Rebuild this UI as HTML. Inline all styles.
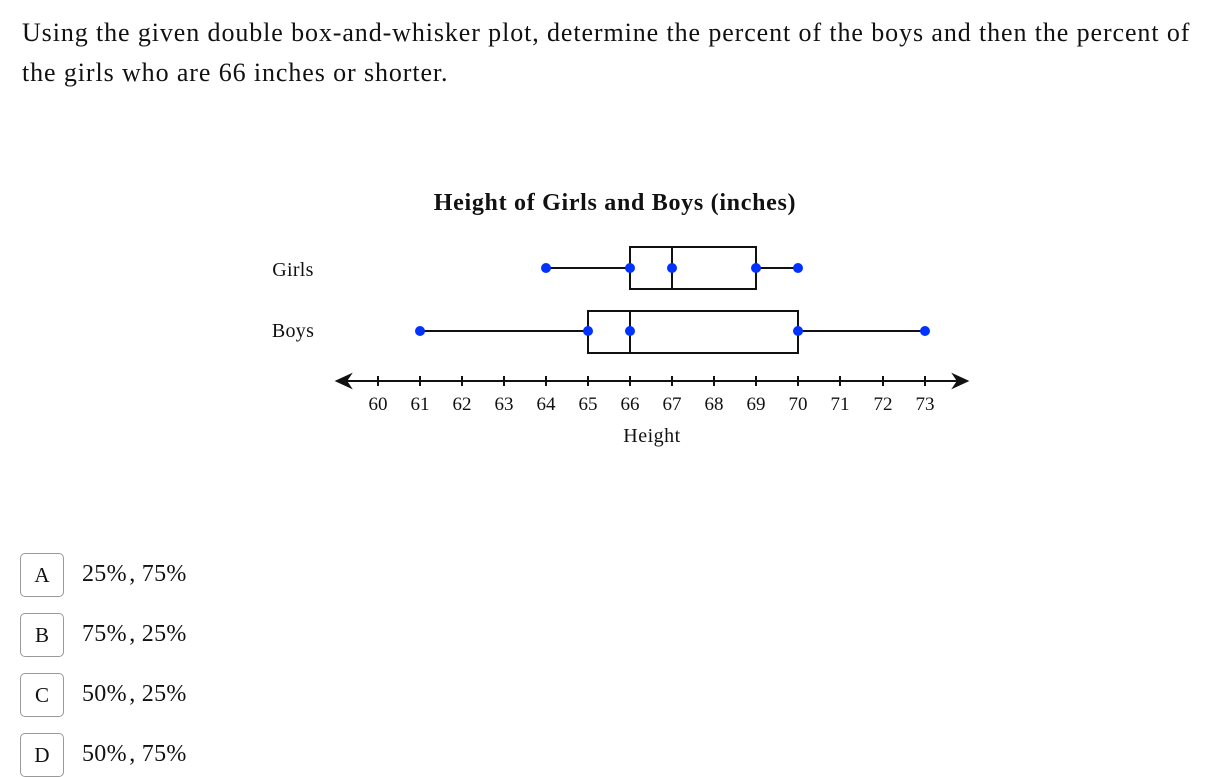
<!DOCTYPE html>
<html><head><style>
body{margin:0;width:1232px;height:777px;background:#fff;font-family:"Liberation Serif",serif;color:#111;position:relative;overflow:hidden}
.q{position:absolute;left:22px;top:13px;width:1182px;font-size:26px;letter-spacing:0.9px;line-height:40px}
.opt{position:absolute;left:20px;width:42px;height:42px;border:1px solid #999;border-radius:5px;font-size:21px;text-align:center;line-height:42px}
.ot{position:absolute;left:82px;font-size:24px;line-height:42px;letter-spacing:0.3px}
</style></head><body>
<div class="q">Using the given double box-and-whisker plot, determine the percent of the boys and then the percent of the girls who are 66 inches or shorter.</div>
<svg width="1232" height="777" style="position:absolute;left:0;top:0">
<g font-family="Liberation Serif, serif" fill="#111">
<text x="615" y="210" font-size="24" font-weight="bold" text-anchor="middle" letter-spacing="0.7">Height of Girls and Boys (inches)</text>
<text x="293" y="276" font-size="20" text-anchor="middle" letter-spacing="0.3">Girls</text>
<text x="293" y="337" font-size="20" text-anchor="middle" letter-spacing="0.3">Boys</text>
<text x="652" y="442" font-size="20" text-anchor="middle" letter-spacing="0.5">Height</text>
</g>
<g stroke="#111" stroke-width="2" fill="none">
<line x1="338" y1="381" x2="966" y2="381"/>
<path d="M350 375 L337 381 L350 387 L346 381 Z" fill="#111"/>
<path d="M954 375 L967 381 L954 387 L958 381 Z" fill="#111"/>
<line x1="546" y1="268" x2="630" y2="268"/>
<rect x="630" y="247" width="126" height="42"/>
<line x1="672" y1="247" x2="672" y2="289"/>
<line x1="756" y1="268" x2="798" y2="268"/>
<line x1="420" y1="331" x2="588" y2="331"/>
<rect x="588" y="311" width="210" height="42"/>
<line x1="630" y1="311" x2="630" y2="353"/>
<line x1="798" y1="331" x2="925" y2="331"/>
</g>
<g fill="#0033ff">
<circle cx="546" cy="268" r="5"/><circle cx="630" cy="268" r="5"/><circle cx="672" cy="268" r="5"/><circle cx="756" cy="268" r="5"/><circle cx="798" cy="268" r="5"/>
<circle cx="420" cy="331" r="5"/><circle cx="588" cy="331" r="5"/><circle cx="630" cy="331" r="5"/><circle cx="798" cy="331" r="5"/><circle cx="925" cy="331" r="5"/>
</g>
<g font-family="Liberation Serif, serif" font-size="19" fill="#111" text-anchor="middle">
<text x="378" y="410">60</text><text x="420" y="410">61</text><text x="462" y="410">62</text><text x="504" y="410">63</text><text x="546" y="410">64</text><text x="588" y="410">65</text><text x="630" y="410">66</text><text x="672" y="410">67</text><text x="714" y="410">68</text><text x="756" y="410">69</text><text x="798" y="410">70</text><text x="840" y="410">71</text><text x="883" y="410">72</text><text x="925" y="410">73</text>
</g>
<g stroke="#111" stroke-width="2">
<line x1="378" y1="376" x2="378" y2="386"/><line x1="420" y1="376" x2="420" y2="386"/><line x1="462" y1="376" x2="462" y2="386"/><line x1="504" y1="376" x2="504" y2="386"/><line x1="546" y1="376" x2="546" y2="386"/><line x1="588" y1="376" x2="588" y2="386"/><line x1="630" y1="376" x2="630" y2="386"/><line x1="672" y1="376" x2="672" y2="386"/><line x1="714" y1="376" x2="714" y2="386"/><line x1="756" y1="376" x2="756" y2="386"/><line x1="798" y1="376" x2="798" y2="386"/><line x1="840" y1="376" x2="840" y2="386"/><line x1="883" y1="376" x2="883" y2="386"/><line x1="925" y1="376" x2="925" y2="386"/>
</g>
</svg>
<div class="opt" style="top:553px">A</div><div class="ot" style="top:553px">25%&#8202;, 75%</div>
<div class="opt" style="top:613px">B</div><div class="ot" style="top:613px">75%&#8202;, 25%</div>
<div class="opt" style="top:673px">C</div><div class="ot" style="top:673px">50%&#8202;, 25%</div>
<div class="opt" style="top:733px">D</div><div class="ot" style="top:733px">50%&#8202;, 75%</div>
</body></html>
